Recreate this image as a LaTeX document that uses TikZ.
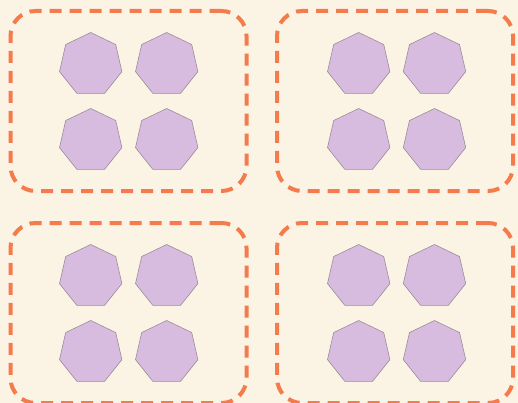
\documentclass[tikz,border=0pt]{standalone}
\usepackage{xcolor}
\usepackage{tikz}
\usetikzlibrary{shapes,positioning}

\definecolor{bgcream}{HTML}{FBF3E4}
\definecolor{grporange}{HTML}{F47B4B}
\definecolor{heptfill}{HTML}{D8BCDF}
\definecolor{heptline}{HTML}{9A8C9C}

\begin{document}
\begin{tikzpicture}[x=1pt, y=-1pt,
  grp/.style={rectangle, draw=grporange, line width=4pt, rounded corners=25pt,
              dash pattern=on 12pt off 8pt, minimum width=236pt,
              minimum height=180pt, inner sep=0pt},
  hept/.style={regular polygon, regular polygon sides=7, draw=heptline,
               fill=heptfill, line width=0.6pt, minimum size=64pt, inner sep=0pt}
]
\fill[bgcream] (0,0) rectangle (518,403);
\useasboundingbox (0,0) rectangle (518,403);

% groups
\node[grp] (g1) at (128.5,101) {};
\node[grp] (g2) at (395,101) {};
\node[grp] (g3) at (128.5,313) {};
\node[grp] (g4) at (395,313) {};

% group 1
\node[hept] (a1) at (90.7,64.5) {};
\node[hept] (a2) at (166.7,64.5) {};
\node[hept] (a3) at (90.7,140.5) {};
\node[hept] (a4) at (166.7,140.5) {};

% group 2
\node[hept] (b1) at (358.7,64.5) {};
\node[hept] (b2) at (434.5,64.5) {};
\node[hept] (b3) at (358.7,140.5) {};
\node[hept] (b4) at (434.5,140.5) {};

% group 3
\node[hept] (c1) at (90.7,276.5) {};
\node[hept] (c2) at (166.7,276.5) {};
\node[hept] (c3) at (90.7,352.5) {};
\node[hept] (c4) at (166.7,352.5) {};

% group 4
\node[hept] (d1) at (358.7,276.5) {};
\node[hept] (d2) at (434.5,276.5) {};
\node[hept] (d3) at (358.7,352.5) {};
\node[hept] (d4) at (434.5,352.5) {};
\end{tikzpicture}
\end{document}
